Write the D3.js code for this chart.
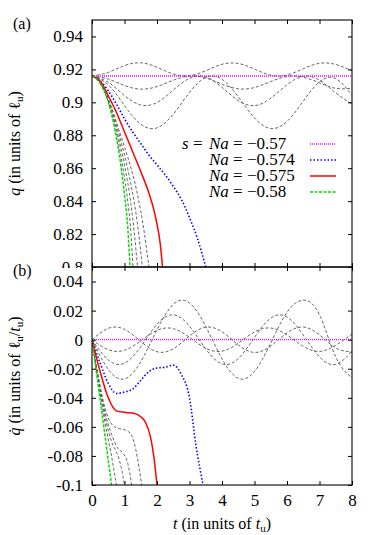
<!DOCTYPE html>
<html>
<head>
<meta charset="utf-8">
<script src="https://cdn.jsdelivr.net/npm/d3@7"></script>
<style>
body { margin: 0; background: #fff; }
text { font-family: "Liberation Serif", "DejaVu Serif", serif; fill: #000; }
</style>
</head>
<body>
<svg id="chart" width="382" height="535"></svg>
<script>
// ---- data ----
var tTicks = [0, 1, 2, 3, 4, 5, 6, 7, 8];
var qTicks = [0.8, 0.82, 0.84, 0.86, 0.88, 0.9, 0.92, 0.94];
var qTickLabels = ["0.8", "0.82", "0.84", "0.86", "0.88", "0.9", "0.92", "0.94"];
var vTicks = [-0.1, -0.08, -0.06, -0.04, -0.02, 0, 0.02, 0.04];
var vTickLabels = ["-0.1", "-0.08", "-0.06", "-0.04", "-0.02", "0", "0.02", "0.04"];

var legendNa = ["\u22120.57", "\u22120.574", "\u22120.575", "\u22120.58"];

// common time grid for the oscillating (stable) runs
var tGrid = [0, 0.5, 1, 1.5, 2, 2.5, 3, 3.5, 4, 4.5, 5, 5.5, 6, 6.5, 7, 7.5, 8];

// q(t), stable gray runs
var qA = [0.916, 0.9182, 0.9223, 0.9240, 0.9213, 0.9172, 0.9162, 0.9192, 0.9231, 0.9236, 0.9202, 0.9165, 0.9166, 0.9204, 0.9237, 0.9230, 0.9191];
var qB = [0.916, 0.9141, 0.9102, 0.9080, 0.9096, 0.9134, 0.9159, 0.9148, 0.9110, 0.9082, 0.9090, 0.9126, 0.9157, 0.9153, 0.9118, 0.9085, 0.9085];
var qC = [0.916, 0.9122, 0.9041, 0.8984, 0.8999, 0.9074, 0.9146, 0.9154, 0.9091, 0.9011, 0.8980, 0.9025, 0.9107, 0.9158, 0.9135, 0.9057, 0.8990];
var qD = [0.916, 0.9106, 0.8980, 0.8867, 0.8845, 0.8928, 0.9060, 0.9151, 0.9140, 0.9034, 0.8905, 0.8841, 0.8884, 0.9007, 0.9124, 0.9144, 0.9043];

// qdot(t), stable gray runs
var vA = [0, 0.0078, 0.0071, -0.0012, -0.0083, -0.0063, 0.0025, 0.0086, 0.0054, -0.0036, -0.0088, -0.0044, 0.0047, 0.0087, 0.0033, -0.0057, -0.0085];
var vB = [0, -0.0069, -0.0073, -0.0008, 0.0064, 0.0076, 0.0016, -0.0059, -0.0079, -0.0024, 0.0053, 0.0080, 0.0032, -0.0046, -0.0081, -0.0039, 0.0039];
var vC = [0, -0.0140, -0.0162, -0.0048, 0.0106, 0.0171, 0.0093, -0.0064, -0.0167, -0.0130, 0.0016, 0.0148, 0.0156, 0.0032, -0.0118, -0.0170, -0.0079];
var vD = [0, -0.0204, -0.0270, -0.0152, 0.0068, 0.0243, 0.0252, 0.0091, -0.0132, -0.0266, -0.0219, -0.0023, 0.0188, 0.0272, 0.0171, -0.0119, -0.0262];

// s = Na = -0.57 (stays put)
var tFlat = [0, 8];
var qFlat = [0.916, 0.916];
var vFlat = [0, 0];

// Na = -0.574
var tBlueQ = [0, 0.25, 0.5, 0.75, 1, 1.25, 1.5, 1.75, 2, 2.25, 2.5, 2.75, 3, 3.25, 3.5];
var qBlue = [0.916, 0.913, 0.907, 0.899, 0.890, 0.882, 0.875, 0.868, 0.862, 0.856, 0.849, 0.841, 0.830, 0.817, 0.800];
var tBlueV = [0, 0.25, 0.5, 0.75, 1, 1.25, 1.5, 1.75, 2, 2.25, 2.5, 2.75, 3, 3.2, 3.42];
var vBlue = [0, -0.016, -0.030, -0.037, -0.036, -0.034, -0.028, -0.022, -0.0195, -0.019, -0.0175, -0.024, -0.040, -0.073, -0.1];

// Na = -0.575
var tRedQ = [0, 0.25, 0.5, 0.75, 1, 1.25, 1.5, 1.75, 1.9, 2, 2.1, 2.17];
var qRed = [0.916, 0.913, 0.904, 0.894, 0.882, 0.870, 0.858, 0.845, 0.835, 0.826, 0.814, 0.800];
var tRedV = [0, 0.25, 0.5, 0.75, 1, 1.25, 1.5, 1.65, 1.8, 1.9, 2];
var vRed = [0, -0.022, -0.040, -0.049, -0.050, -0.0505, -0.053, -0.057, -0.067, -0.080, -0.1];

// Na = -0.58
var tGreenQ = [0, 0.2, 0.4, 0.6, 0.8, 0.9, 1, 1.1, 1.17];
var qGreen = [0.916, 0.913, 0.906, 0.893, 0.873, 0.860, 0.844, 0.824, 0.800];
var tGreenV = [0, 0.2, 0.4, 0.6];
var vGreen = [0, -0.033, -0.066, -0.1];

// gray runs between -0.575 and -0.58
var tU1q = [0, 0.2, 0.4, 0.6, 0.8, 1, 1.1, 1.2, 1.26];
var qU1 = [0.916, 0.913, 0.906, 0.894, 0.877, 0.854, 0.840, 0.820, 0.800];
var tU2q = [0, 0.2, 0.4, 0.6, 0.8, 1, 1.2, 1.3, 1.4];
var qU2 = [0.916, 0.913, 0.906, 0.895, 0.880, 0.862, 0.838, 0.821, 0.800];
var tU3q = [0, 0.2, 0.4, 0.6, 0.8, 1, 1.2, 1.4, 1.55];
var qU3 = [0.916, 0.913, 0.906, 0.896, 0.883, 0.868, 0.850, 0.826, 0.800];
var tU4q = [0, 0.2, 0.4, 0.6, 0.8, 1, 1.2, 1.4, 1.6, 1.75];
var qU4 = [0.916, 0.913, 0.907, 0.897, 0.885, 0.873, 0.860, 0.844, 0.822, 0.800];

var tU1v = [0, 0.2, 0.4, 0.6, 0.75];
var vU1 = [0, -0.030, -0.057, -0.080, -0.1];
var tU2v = [0, 0.2, 0.4, 0.6, 0.8, 0.9, 1];
var vU2 = [0, -0.028, -0.053, -0.070, -0.080, -0.088, -0.1];
var tU3v = [0, 0.2, 0.4, 0.6, 0.8, 0.95, 1.1, 1.22];
var vU3 = [0, -0.027, -0.050, -0.065, -0.075, -0.078, -0.085, -0.1];
var tU4v = [0, 0.2, 0.4, 0.6, 0.8, 1, 1.2, 1.35, 1.53];
var vU4 = [0, -0.026, -0.047, -0.058, -0.061, -0.062, -0.065, -0.076, -0.1];

// ---- layout ----
var pLeft = 92, pRight = 352, pTop = 20, pMid = 267, pBottom = 485;

var svg = d3.select('#chart');
svg.append('rect').attr('width', 382).attr('height', 535).attr('fill', '#fff');

var x = d3.scaleLinear().domain([0, 8]).range([pLeft, pRight]);
var yTop = d3.scaleLinear().domain([0.8, 0.95]).range([pMid, pTop]);
var yBot = d3.scaleLinear().domain([-0.1, 0.05]).range([pBottom, pMid]);

var defs = svg.append('defs');
defs.append('clipPath').attr('id', 'clipTop').append('rect')
    .attr('x', pLeft).attr('y', pTop).attr('width', pRight - pLeft).attr('height', pMid - pTop);
defs.append('clipPath').attr('id', 'clipBot').append('rect')
    .attr('x', pLeft).attr('y', pMid).attr('width', pRight - pLeft).attr('height', pBottom - pMid);
// the lower panel covers the bottom half of the top panel's "0.8" label
defs.append('clipPath').attr('id', 'clipTopLabels').append('rect')
    .attr('x', 0).attr('y', 0).attr('width', 382).attr('height', pMid + 1);

var styles = {
    gray:    { stroke: '#555', width: 0.9, dash: '3,2' },
    magenta: { stroke: '#ff00ff', width: 1.4, dash: '1,1' },
    blue:    { stroke: '#0000ff', width: 1.6, dash: '1.5,2' },
    red:     { stroke: '#ff0000', width: 1.5, dash: null },
    green:   { stroke: '#00dd00', width: 1.5, dash: '3,1.5' }
};

function drawRun(g, y, ts, vals, st, curve) {
    var pts = ts.map(function (t, i) { return [t, vals[i]]; });
    var line = d3.line()
        .x(function (d) { return x(d[0]); })
        .y(function (d) { return y(d[1]); })
        .curve(curve);
    g.append('path')
        .attr('d', line(pts))
        .attr('fill', 'none')
        .attr('stroke', st.stroke)
        .attr('stroke-width', st.width)
        .attr('stroke-dasharray', st.dash);
}

function axes(y, yTicksVals, yLabels, y0, y1, showX, clipId) {
    var fmt = function (d) { return yLabels[yTicksVals.indexOf(d)]; };
    // wrapper without transform so the clip rect is in page coordinates
    var wrap = svg.append('g');
    if (clipId) wrap.attr('clip-path', 'url(#' + clipId + ')');
    var gl = wrap.append('g').attr('transform', 'translate(' + pLeft + ',0)')
        .call(d3.axisLeft(y).tickValues(yTicksVals).tickSize(-4).tickPadding(9).tickFormat(fmt));
    var gr = svg.append('g').attr('transform', 'translate(' + pRight + ',0)')
        .call(d3.axisRight(y).tickValues(yTicksVals).tickSize(-4).tickFormat(''));
    var gt = svg.append('g').attr('transform', 'translate(0,' + y0 + ')')
        .call(d3.axisTop(x).tickValues(tTicks).tickSize(-4).tickFormat(''));
    var gb = svg.append('g').attr('transform', 'translate(0,' + y1 + ')')
        .call(d3.axisBottom(x).tickValues(tTicks).tickSize(-4).tickPadding(9)
            .tickFormat(showX ? function (d) { return String(d); } : ''));
    [gl, gr, gt, gb].forEach(function (g) {
        g.select('.domain').remove();
        g.attr('font-family', null).attr('font-size', null);
        g.selectAll('.tick line').attr('stroke', '#000').attr('stroke-width', 1);
        g.selectAll('.tick text').style('font-size', '17px');
    });
}

// ---- top panel: q ----
var gTop = svg.append('g').attr('clip-path', 'url(#clipTop)');
[qA, qB, qC, qD].forEach(function (q) { drawRun(gTop, yTop, tGrid, q, styles.gray, d3.curveNatural); });
[[tU1q, qU1], [tU2q, qU2], [tU3q, qU3], [tU4q, qU4]].forEach(function (r) {
    drawRun(gTop, yTop, r[0], r[1], styles.gray, d3.curveMonotoneX);
});
drawRun(gTop, yTop, tFlat, qFlat, styles.magenta, d3.curveLinear);
drawRun(gTop, yTop, tBlueQ, qBlue, styles.blue, d3.curveMonotoneX);
drawRun(gTop, yTop, tRedQ, qRed, styles.red, d3.curveMonotoneX);
drawRun(gTop, yTop, tGreenQ, qGreen, styles.green, d3.curveMonotoneX);

// ---- bottom panel: qdot ----
var gBot = svg.append('g').attr('clip-path', 'url(#clipBot)');
[vA, vB, vC, vD].forEach(function (v) { drawRun(gBot, yBot, tGrid, v, styles.gray, d3.curveNatural); });
[[tU1v, vU1], [tU2v, vU2], [tU3v, vU3], [tU4v, vU4]].forEach(function (r) {
    drawRun(gBot, yBot, r[0], r[1], styles.gray, d3.curveMonotoneX);
});
drawRun(gBot, yBot, tFlat, vFlat, styles.magenta, d3.curveLinear);
drawRun(gBot, yBot, tBlueV, vBlue, styles.blue, d3.curveMonotoneX);
drawRun(gBot, yBot, tRedV, vRed, styles.red, d3.curveMonotoneX);
drawRun(gBot, yBot, tGreenV, vGreen, styles.green, d3.curveLinear);

// axes and frames
axes(yTop, qTicks, qTickLabels, pTop, pMid, false, 'clipTopLabels');
axes(yBot, vTicks, vTickLabels, pMid, pBottom, true, null);
svg.append('rect').attr('x', pLeft).attr('y', pTop).attr('width', pRight - pLeft).attr('height', pMid - pTop)
    .attr('fill', 'none').attr('stroke', '#000').attr('stroke-width', 1.1);
svg.append('rect').attr('x', pLeft).attr('y', pMid).attr('width', pRight - pLeft).attr('height', pBottom - pMid)
    .attr('fill', 'none').attr('stroke', '#000').attr('stroke-width', 1.1);

// panel tags
svg.append('text').attr('x', 13).attr('y', 29).style('font-size', '16px').text('(a)');
svg.append('text').attr('x', 13).attr('y', 276).style('font-size', '16px').text('(b)');

// axis titles
var ylab1 = svg.append('text').attr('transform', 'translate(20,' + (pTop + pMid) / 2 + ') rotate(-90)')
    .attr('text-anchor', 'middle').style('font-size', '16px');
ylab1.append('tspan').style('font-style', 'italic').text('q');
ylab1.append('tspan').text(' (in units of \u2113');
ylab1.append('tspan').attr('dy', 3).style('font-size', '11px').text('u');
ylab1.append('tspan').attr('dy', -3).text(')');

var ylab2 = svg.append('text').attr('transform', 'translate(20,' + (pMid + pBottom) / 2 + ') rotate(-90)')
    .attr('text-anchor', 'middle').style('font-size', '16px');
ylab2.append('tspan').style('font-style', 'italic').text('q\u0307');
ylab2.append('tspan').text(' (in units of \u2113');
ylab2.append('tspan').attr('dy', 3).style('font-size', '11px').text('u');
ylab2.append('tspan').attr('dy', -3).text('/');
ylab2.append('tspan').style('font-style', 'italic').text('t');
ylab2.append('tspan').attr('dy', 3).style('font-size', '11px').text('u');
ylab2.append('tspan').attr('dy', -3).text(')');

var xlab = svg.append('text').attr('x', (pLeft + pRight) / 2).attr('y', 529)
    .attr('text-anchor', 'middle').style('font-size', '16px');
xlab.append('tspan').style('font-style', 'italic').text('t');
xlab.append('tspan').text(' (in units of ');
xlab.append('tspan').style('font-style', 'italic').text('t');
xlab.append('tspan').attr('dy', 3).style('font-size', '11px').text('u');
xlab.append('tspan').attr('dy', -3).text(')');

// legend: one text per row, "Na" starts at the same x on every row
var legendStyles = [styles.magenta, styles.blue, styles.red, styles.green];
var legendY = [144, 160, 176, 192];
legendNa.forEach(function (lab, i) {
    var yy = legendY[i];
    var st = legendStyles[i];
    var txt = svg.append('text').attr('x', i === 0 ? 182 : 209).attr('y', yy + 5).style('font-size', '17px');
    if (i === 0) {
        txt.append('tspan').style('font-style', 'italic').text('s');
        txt.append('tspan').text(' = ');
    }
    txt.append('tspan').attr('x', 209).style('font-style', 'italic').text('Na');
    txt.append('tspan').text(' = ' + lab);
    svg.append('line').attr('x1', 310).attr('x2', 336).attr('y1', yy).attr('y2', yy)
        .attr('stroke', st.stroke).attr('stroke-width', st.width).attr('stroke-dasharray', st.dash);
});
</script>
</body>
</html>
